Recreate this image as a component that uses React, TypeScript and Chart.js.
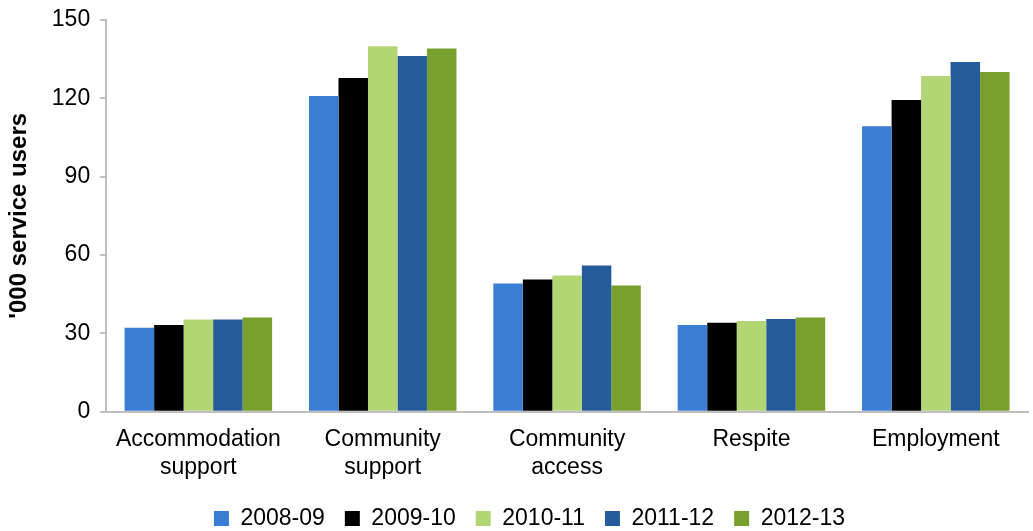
import React, { useEffect, useRef } from "react";
import { Chart, registerables } from "chart.js";

Chart.register(...registerables);

const categories: string[][] = [
  ["Accommodation", "support"],
  ["Community", "support"],
  ["Community", "access"],
  ["Respite"],
  ["Employment"],
];
const seriesNames = ["2008-09", "2009-10", "2010-11", "2011-12", "2012-13"];
const s2008 = [32.2, 120.8, 49.1, 33.2, 109.3];
const s2009 = [33.2, 127.7, 50.6, 34.1, 119.3];
const s2010 = [35.3, 139.9, 52.2, 34.7, 128.5];
const s2011 = [35.3, 136.1, 56.0, 35.5, 133.8];
const s2012 = [36.1, 139.0, 48.3, 36.1, 130.0];
const colors = ["#3A7DD4", "#000000", "#B3D675", "#265B9B", "#78A02F"];
const yTicks = [0, 30, 60, 90, 120, 150];

const legendShift = {
  id: "legendShift",
  afterLayout(chart: any) {
    const lg = chart.legend;
    if (lg) {
      lg.left += 13;
      lg.right += 13;
    }
  },
};

export default function App() {
  const ref = useRef<HTMLCanvasElement>(null);
  useEffect(() => {
    if (!ref.current) return;
    const all = [s2008, s2009, s2010, s2011, s2012];
    const font = "'Liberation Sans', Arial, sans-serif";
    const chart = new Chart(ref.current, {
      type: "bar",
      data: {
        labels: categories,
        datasets: all.map((d, i) => ({
          label: seriesNames[i],
          data: d,
          backgroundColor: colors[i],
          borderWidth: 0,
          categoryPercentage: 0.8,
          barPercentage: 1.0,
        })),
      },
      plugins: [legendShift],
      options: {
        animation: false,
        responsive: false,
        maintainAspectRatio: false,
        layout: { padding: { top: 0, right: 5, left: 5, bottom: -9 } },
        plugins: {
          tooltip: { enabled: false },
          legend: {
            position: "bottom",
            labels: {
              color: "#000",
              font: { family: font, size: 23 },
              boxWidth: 15,
              boxHeight: 15,
              padding: 20,
            },
          },
        },
        scales: {
          x: {
            grid: { display: false },
            border: { color: "#BFBFBF", width: 2 },
            ticks: { color: "#000", font: { family: font, size: 23, lineHeight: 1.2 }, padding: 6, maxRotation: 0, autoSkip: false },
          },
          y: {
            min: 0,
            max: 150,
            afterBuildTicks: (axis: any) => {
              axis.ticks = yTicks.map((v) => ({ value: v }));
            },
            grid: { drawOnChartArea: false, drawTicks: true, tickLength: 6, color: "#BFBFBF", lineWidth: 2 },
            border: { color: "#BFBFBF", width: 2 },
            ticks: { color: "#000", font: { family: font, size: 23, lineHeight: 0.85 }, padding: 10 },
            title: {
              display: true,
              text: "'000 service users",
              color: "#000",
              font: { family: font, size: 24, weight: "bold" },
              padding: { top: 0, bottom: 8 },
            },
          },
        },
      },
    });
    return () => chart.destroy();
  }, []);
  return (
    <div style={{ position: "fixed", left: 0, top: 0, width: 1033, height: 531, background: "#fff" }}>
      <canvas ref={ref} width={1033} height={531} style={{ width: 1033, height: 531 }} />
    </div>
  );
}
